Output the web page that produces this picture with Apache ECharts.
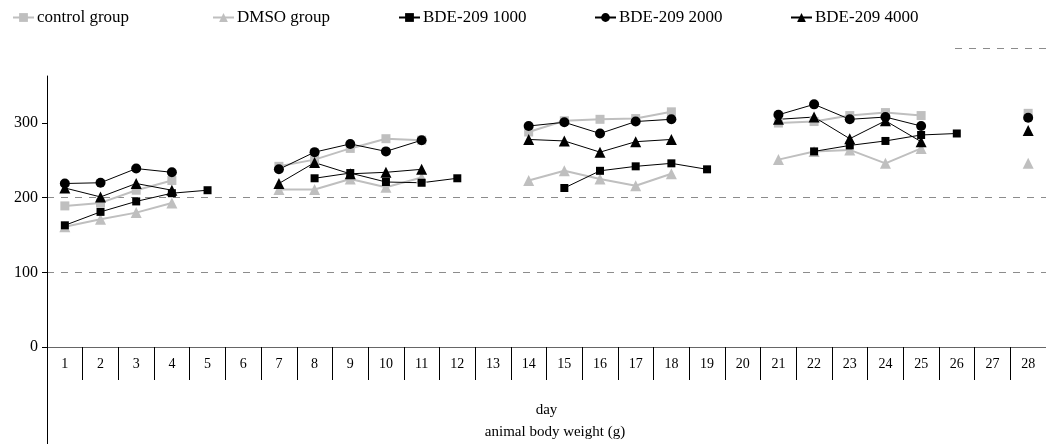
<!DOCTYPE html>
<html>
<head>
<meta charset="utf-8">
<script src="https://cdn.jsdelivr.net/npm/echarts@6/dist/echarts.min.js"></script>
<style>
html,body{margin:0;padding:0;background:#fff;}
#chart{width:1046px;height:444px;}
</style>
</head>
<body>
<div id="chart"></div>
<script>
var days = ['1','2','3','4','5','6','7','8','9','10','11','12','13','14','15','16','17','18','19','20','21','22','23','24','25','26','27','28'];
var yTicks = [0, 100, 200, 300];
var seriesNames = ['control group', 'DMSO group', 'BDE-209 1000', 'BDE-209 2000', 'BDE-209 4000'];
var control = [189,193,210,223,null,null,242,251,266,279,277,null,null,288,303,305,306,315,null,null,300,302,310,314,310,null,null,313];
var dmso    = [161,171,180,193,null,null,211,211,225,214,227,null,null,223,236,225,216,232,null,null,251,262,264,246,266,null,null,246];
var bde1000 = [163,181,195,206,210,null,null,226,233,221,220,226,null,null,213,236,242,246,238,null,null,262,270,276,284,286,null,null];
var bde2000 = [219,220,239,234,null,null,238,261,272,262,277,null,null,296,301,286,302,305,null,null,311,325,305,308,296,null,null,307];
var bde4000 = [213,201,219,210,null,null,219,247,232,234,238,null,null,278,276,261,275,278,null,null,305,308,279,303,275,null,null,290];

var FONT = '"Liberation Serif","Times New Roman",serif';
var GRAY = '#bfbfbf';
var chart = echarts.init(document.getElementById('chart'));

function mk(name, data, color, symbol, size, width) {
  return {
    name: name, type: 'line', data: data,
    symbol: symbol, symbolSize: size,
    connectNulls: false,
    itemStyle: {color: color},
    lineStyle: {color: color, width: width},
    emphasis: {disabled: true},
    animation: false
  };
}

var legendLefts = [12, 212, 398, 594, 790];
var legends = seriesNames.map(function (n, i) {
  return {
    data: [n], left: legendLefts[i], top: 9, padding: 0,
    itemWidth: 21, itemHeight: 11, itemGap: 3,
    textStyle: {fontFamily: FONT, fontSize: 17, color: '#000', padding: [0,0,0,-2]},
    selectedMode: false
  };
});

chart.setOption({
  animation: false,
  backgroundColor: '#fff',
  title: {
    text: 'animal body weight (g)', left: 555, top: 425, textAlign: 'center', padding: 0,
    textStyle: {fontFamily: FONT, fontSize: 15, fontWeight: 'normal', color: '#000'}
  },
  legend: legends,
  grid: {left: 47, right: -7, top: 76, bottom: 97, containLabel: false},
  xAxis: {
    type: 'category', data: days, boundaryGap: true,
    name: 'day', nameLocation: 'middle', nameGap: 56,
    nameTextStyle: {fontFamily: FONT, fontSize: 15, color: '#000'},
    axisLine: {lineStyle: {color: '#666', width: 1}},
    axisTick: {show: true, interval: 0, length: 33, lineStyle: {color: '#000'}},
    axisLabel: {interval: 0, margin: 10, fontFamily: FONT, fontSize: 14, color: '#000'},
    splitLine: {show: false}
  },
  yAxis: {
    type: 'value', min: 0, max: 363,
    axisLine: {show: true, lineStyle: {color: '#000', width: 1}},
    axisTick: {show: true, length: 5, customValues: yTicks, lineStyle: {color: '#000'}},
    axisLabel: {customValues: yTicks, margin: 9, fontFamily: FONT, fontSize: 16, color: '#000'},
    splitLine: {show: true, showMinLine: false, showMaxLine: false, lineStyle: {color: '#8c8c8c', type: [7, 7], width: 1}}
  },
  graphic: [
    {type: 'line', shape: {x1: 47.5, y1: 347, x2: 47.5, y2: 444}, style: {stroke: '#000', lineWidth: 1}, silent: true},
    {type: 'line', shape: {x1: 955, y1: 48.5, x2: 1046, y2: 48.5}, style: {stroke: '#8c8c8c', lineWidth: 1, lineDash: [7, 7]}, silent: true}
  ],
  series: [
    mk(seriesNames[0], control, GRAY, 'rect', 9, 2),
    mk(seriesNames[1], dmso, GRAY, 'triangle', 11, 2),
    mk(seriesNames[2], bde1000, '#000', 'rect', 8, 1),
    mk(seriesNames[3], bde2000, '#000', 'circle', 10, 1),
    mk(seriesNames[4], bde4000, '#000', 'triangle', 11, 1)
  ]
});
</script>
</body>
</html>
